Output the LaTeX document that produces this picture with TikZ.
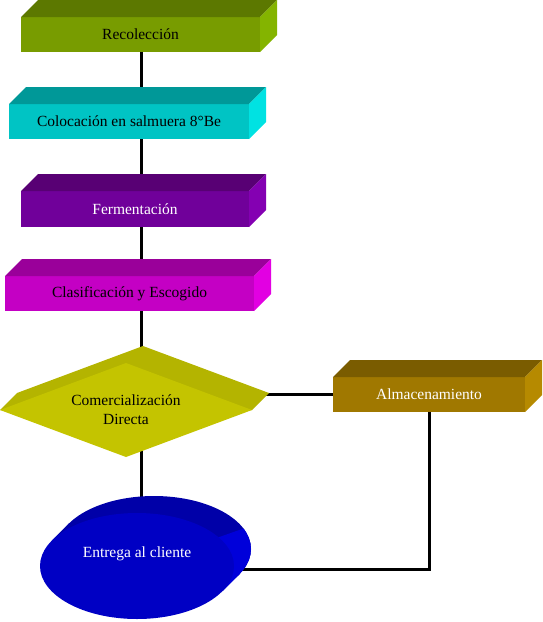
\documentclass[tikz,border=0pt]{standalone}
\usepackage{fontspec}
\setmainfont{Liberation Serif}
\usetikzlibrary{shapes.geometric}
\usetikzlibrary{backgrounds}

\definecolor{recFront}{RGB}{120,156,0}
\definecolor{recTop}{RGB}{92,120,0}
\definecolor{recSide}{RGB}{132,180,0}
\definecolor{colFront}{RGB}{0,196,196}
\definecolor{colTop}{RGB}{0,152,152}
\definecolor{colSide}{RGB}{0,226,226}
\definecolor{ferFront}{RGB}{112,0,154}
\definecolor{ferTop}{RGB}{88,0,116}
\definecolor{ferSide}{RGB}{132,0,178}
\definecolor{claFront}{RGB}{196,0,196}
\definecolor{claTop}{RGB}{154,0,154}
\definecolor{claSide}{RGB}{226,0,226}
\definecolor{diaFront}{RGB}{196,196,0}
\definecolor{diaTop}{RGB}{180,180,0}
\definecolor{almFront}{RGB}{160,120,0}
\definecolor{almTop}{RGB}{122,92,0}
\definecolor{almSide}{RGB}{182,138,0}
\definecolor{entFront}{RGB}{0,0,196}
\definecolor{entTop}{RGB}{0,0,168}
\definecolor{entSide}{RGB}{0,0,218}

\pgfdeclarelayer{links}
\pgfsetlayers{links,background,main}

% top and side faces of a box: node, top colour, side colour
\newcommand\slab[3]{%
  \fill[#2] (#1.north west) -- ([shift={(17,-17)}]#1.north west) -- ([shift={(17,-17)}]#1.north east) -- (#1.north east) -- cycle;
  \fill[#3] (#1.north east) -- ([shift={(17,-17)}]#1.north east) -- ([shift={(17,-17)}]#1.south east) -- (#1.south east) -- cycle;
}

\begin{document}
\begin{tikzpicture}[x=1pt, y=-1pt,
  txt/.style={font=\fontsize{15.5}{19}\selectfont},
  box/.style={txt, rectangle, inner sep=0pt, outer sep=0pt, minimum height=35pt},
  link/.style={line width=3pt}]
  \useasboundingbox (0,0) rectangle (543,622);
  %--- Recolección
    \node[box, fill=recFront, minimum width=239pt] (rec) at (140.5,34.5) {Recolección};
    \slab{rec}{recTop}{recSide}
  %--- Colocación en salmuera
    \node[box, fill=colFront, minimum width=240pt] (col) at (129,121.5) {Colocación en salmuera 8°Be};
    \slab{col}{colTop}{colSide}
  %--- Fermentación
    \node[box, fill=ferFront, minimum width=228pt, minimum height=36pt, text=white] (fer) at (135,209) {Fermentación};
    \slab{fer}{ferTop}{ferSide}
  %--- Clasificación
    \node[box, fill=claFront, minimum width=249pt] (cla) at (129.5,293.5) {Clasificación y Escogido};
    \slab{cla}{claTop}{claSide}
  %--- Comercialización directa (rombo)
    \node[txt, diamond, aspect=2.68, fill=diaFront, minimum width=252pt, minimum height=94pt, inner sep=0pt, outer sep=0pt, align=center] (dia) at (126,410) {Comercialización\\ Directa};
    \begin{pgfonlayer}{background}
      \fill[diaTop] (dia.west) -- ([shift={(17,-17)}]dia.west) -- ([shift={(17,-17)}]dia.north) -- ([shift={(17,-17)}]dia.east) -- (dia.east) -- cycle;
    \end{pgfonlayer}
  %--- Almacenamiento
    \node[box, fill=almFront, minimum width=192pt, text=white] (alm) at (429,394.5) {Almacenamiento};
    \slab{alm}{almTop}{almSide}
  %--- Entrega al cliente (elipse)
    \node[ellipse, fill=entFront, minimum width=194pt, minimum height=106pt, inner sep=0pt, outer sep=0pt] (ent) at (137,566) {};
    \node[txt, text=white] (entText) at ([yshift=12pt]ent.center) {Entrega al cliente};
    \begin{pgfonlayer}{background}
      \fill[entTop] ([shift={(17,-17)}]ent.center) ellipse [x radius=97, y radius=53];
      \fill[entTop] (ent.163.4) -- ([shift={(17,-17)}]ent.163.4) -- ([shift={(17,-17)}]ent.-16.6) -- (ent.-16.6) -- cycle;
      \begin{scope}
        \clip (ent.center) -- (262,522) -- (262,622) -- (137,622) -- cycle;
        \fill[entSide] ([shift={(17,-17)}]ent.center) ellipse [x radius=97, y radius=53];
        \fill[entSide] (ent.-16.6) -- ([shift={(17,-17)}]ent.-16.6) -- ([shift={(17,-17)}]ent.east) -- (ent.east) -- cycle;
      \end{scope}
    \end{pgfonlayer}
  % Líneas
    \coordinate (spine) at (141,0);
    \begin{pgfonlayer}{links}
      \draw[link] (spine |- rec.center) -- (spine |- col.center);
      \draw[link] (spine |- col.center) -- (spine |- fer.center);
      \draw[link] (spine |- fer.center) -- (spine |- cla.center);
      \draw[link] (spine |- cla.center) -- (spine |- dia.center);
      \draw[link] (spine |- dia.center) -- (spine |- ent.center);
      \draw[link] (alm.west) -- (alm.west -| dia.center);
      \draw[link] (alm.center) |- ([yshift=-3pt]ent.center);
    \end{pgfonlayer}
\end{tikzpicture}
\end{document}
